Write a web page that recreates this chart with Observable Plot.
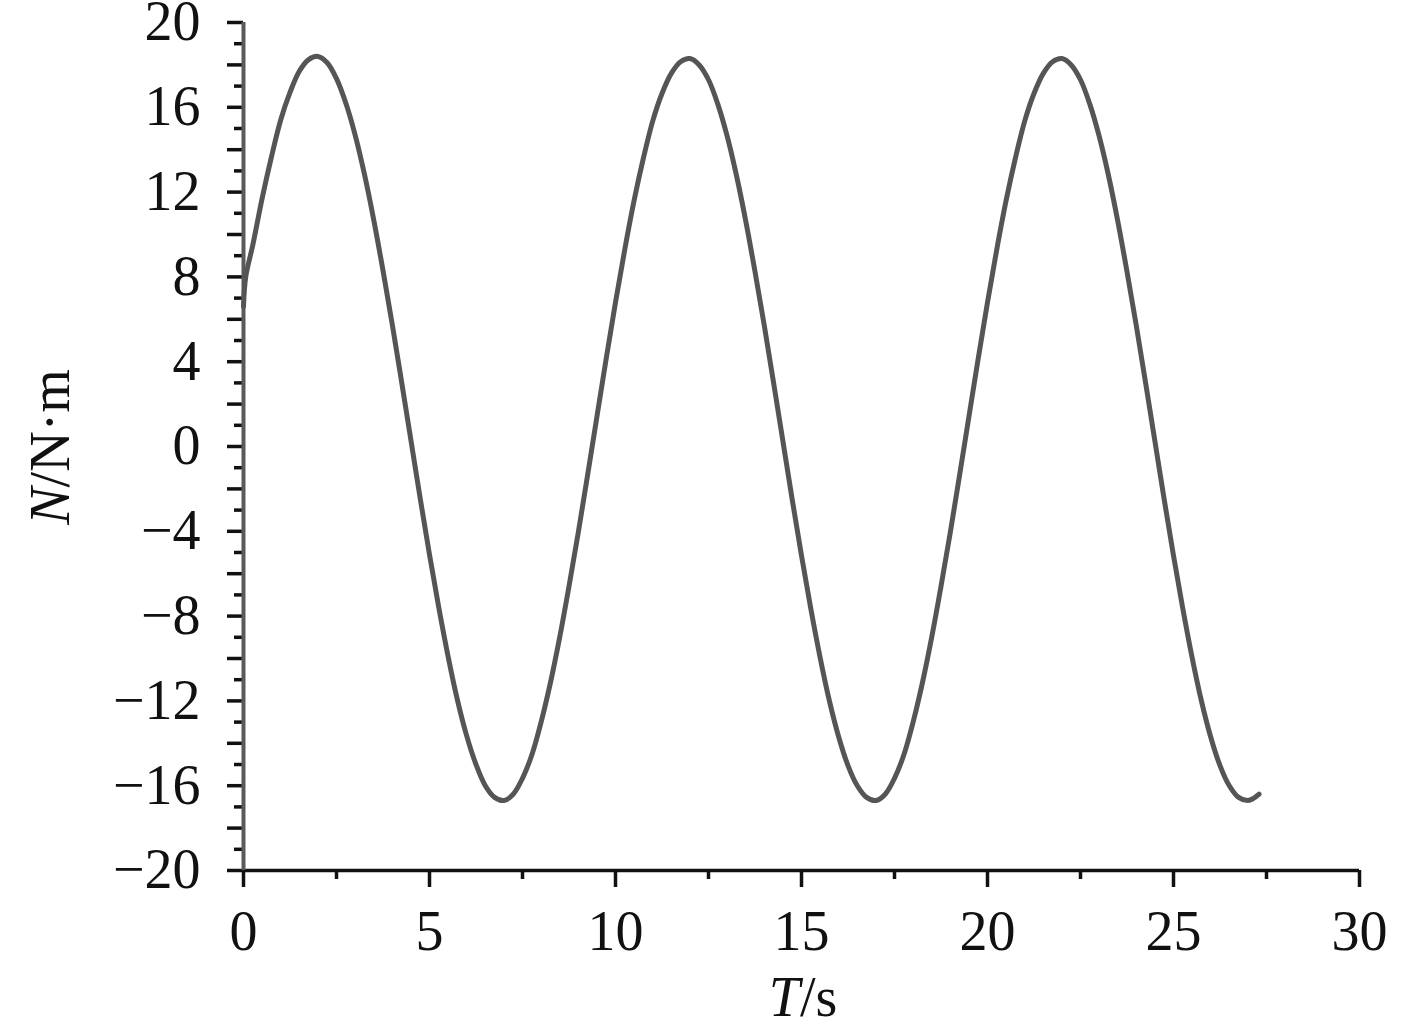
<!DOCTYPE html>
<html>
<head>
<meta charset="utf-8">
<script src="https://cdn.jsdelivr.net/npm/d3@7"></script>
<script src="https://cdn.jsdelivr.net/npm/@observablehq/plot@0.6"></script>
<style>
  html, body { margin: 0; padding: 0; background: #fff; }
  #chart svg { display: block; }
  #chart svg g[aria-label="y-axis tick"] path,
  #chart svg g[aria-label="x-axis tick"] path { stroke-width: 3.5px; stroke: #111; }
</style>
</head>
<body>
<div id="chart"></div>
<script>
// Time (s)
const timeS = [
  0, 0.06, 0.25, 0.5, 0.75, 1.0, 1.25, 1.5, 1.75, 2.0, 2.25, 2.5, 2.75, 3.0, 3.25, 3.5, 3.75,
  4.0, 4.25, 4.5, 4.75, 5.0, 5.25, 5.5, 5.75, 6.0, 6.25, 6.5, 6.75, 7.0, 7.25, 7.5, 7.75,
  8.0, 8.25, 8.5, 8.75, 9.0, 9.25, 9.5, 9.75, 10.0, 10.25, 10.5, 10.75, 11.0, 11.25, 11.5, 11.75,
  12.0, 12.25, 12.5, 12.75, 13.0, 13.25, 13.5, 13.75, 14.0, 14.25, 14.5, 14.75, 15.0, 15.25, 15.5, 15.75,
  16.0, 16.25, 16.5, 16.75, 17.0, 17.25, 17.5, 17.75, 18.0, 18.25, 18.5, 18.75, 19.0, 19.25, 19.5, 19.75,
  20.0, 20.25, 20.5, 20.75, 21.0, 21.25, 21.5, 21.75, 22.0, 22.25, 22.5, 22.75, 23.0, 23.25, 23.5, 23.75,
  24.0, 24.25, 24.5, 24.75, 25.0, 25.25, 25.5, 25.75, 26.0, 26.25, 26.5, 26.75, 27.0, 27.15, 27.3
];
// Torque N (N·m)
const torqueNm = [
  6.6, 8.0, 9.5, 11.7, 13.65, 15.4, 16.7, 17.7, 18.25, 18.4, 18.1, 17.35, 16.2, 14.7, 12.85, 10.7, 8.3,
  5.75, 3.05, 0.3, -2.45, -5.1, -7.6, -9.9, -11.95, -13.65, -15.0, -16.0, -16.55, -16.7, -16.4, -15.65, -14.55,
  -13.0, -11.15, -9.0, -6.6, -4.05, -1.35, 1.4, 4.15, 6.8, 9.3, 11.6, 13.6, 15.35, 16.65, 17.6, 18.15,
  18.3, 18.0, 17.3, 16.15, 14.65, 12.8, 10.65, 8.25, 5.7, 3.0, 0.25, -2.5, -5.15, -7.65, -9.95, -12.0,
  -13.7, -15.05, -16.0, -16.55, -16.7, -16.4, -15.65, -14.55, -13.0, -11.15, -9.0, -6.6, -4.05, -1.35, 1.4, 4.15,
  6.8, 9.3, 11.6, 13.6, 15.35, 16.65, 17.6, 18.15, 18.3, 18.0, 17.3, 16.15, 14.65, 12.8, 10.65, 8.25,
  5.7, 3.0, 0.25, -2.5, -5.15, -7.65, -9.95, -12.0, -13.7, -15.05, -16.0, -16.55, -16.7, -16.6, -16.4
];

const xMajorTicks = [0, 5, 10, 15, 20, 25, 30];
const xMinorTicks = [2.5, 7.5, 12.5, 17.5, 22.5, 27.5];
const yLabelTicks = [-20, -16, -12, -8, -4, 0, 4, 8, 12, 16, 20];
const yMajorTicks = d3.range(-20, 21, 2);
const yMinorTicks = d3.range(-19, 20, 2);
const xTitle = ["T", "/s"];
const yTitle = ["N", "/N·m"];

const fmt = d => (d < 0 ? "\u2212" + Math.abs(d) : String(d));
const blank = () => "";
const serif = "'Liberation Serif', 'Times New Roman', serif";

const data = timeS.map((t, i) => ({t, n: torqueNm[i]}));

const chart = Plot.plot({
  width: 1417,
  height: 1023,
  marginLeft: 243,
  marginRight: 58,
  marginTop: 22,
  marginBottom: 153,
  x: {domain: [0, 30]},
  y: {domain: [-20, 20]},
  style: {fontFamily: serif, fontSize: "56px", color: "#111", background: "#fff", overflow: "visible"},
  marks: [
    // y ticks
    Plot.axisY({ticks: yMinorTicks, tickSize: 9, tickFormat: blank, strokeWidth: 3.5, label: null}),
    Plot.axisY({ticks: yMajorTicks, tickSize: 16, tickFormat: blank, strokeWidth: 3.5, label: null}),
    Plot.axisY({ticks: yLabelTicks, tickSize: 0, tickPadding: 43, tickFormat: fmt, label: null}),
    // x ticks
    Plot.axisX({ticks: xMinorTicks, tickSize: 9, tickFormat: blank, strokeWidth: 3.5, label: null}),
    Plot.axisX({ticks: xMajorTicks, tickSize: 17, tickFormat: blank, strokeWidth: 3.5, label: null}),
    Plot.axisX({ticks: xMajorTicks, tickSize: 0, tickPadding: 40, tickFormat: fmt, label: null}),
    // axis lines
    Plot.ruleY([-20], {stroke: "#111", strokeWidth: 3.5}),
    Plot.ruleX([0], {stroke: "#5a5a5a", strokeWidth: 4}),
    // curve
    Plot.line(data, {x: "t", y: "n", stroke: "#555", strokeWidth: 5, curve: "catmull-rom", strokeLinejoin: "round", strokeLinecap: "round"})
  ]
});

const svg = d3.select(chart);
// x axis title
const xt = svg.append("text")
  .attr("x", 803).attr("y", 1016)
  .attr("text-anchor", "middle")
  .attr("fill", "#111")
  .style("font-family", serif)
  .style("font-size", "56px");
xt.append("tspan").style("font-style", "italic").text(xTitle[0]);
xt.append("tspan").text(xTitle[1]);
// y axis title
const yt = svg.append("text")
  .attr("transform", "translate(69,447) rotate(-90)")
  .attr("text-anchor", "middle")
  .attr("fill", "#111")
  .style("font-family", serif)
  .style("font-size", "56px");
yt.append("tspan").style("font-style", "italic").text(yTitle[0]);
yt.append("tspan").text(yTitle[1]);

document.getElementById("chart").appendChild(chart);
</script>
</body>
</html>
